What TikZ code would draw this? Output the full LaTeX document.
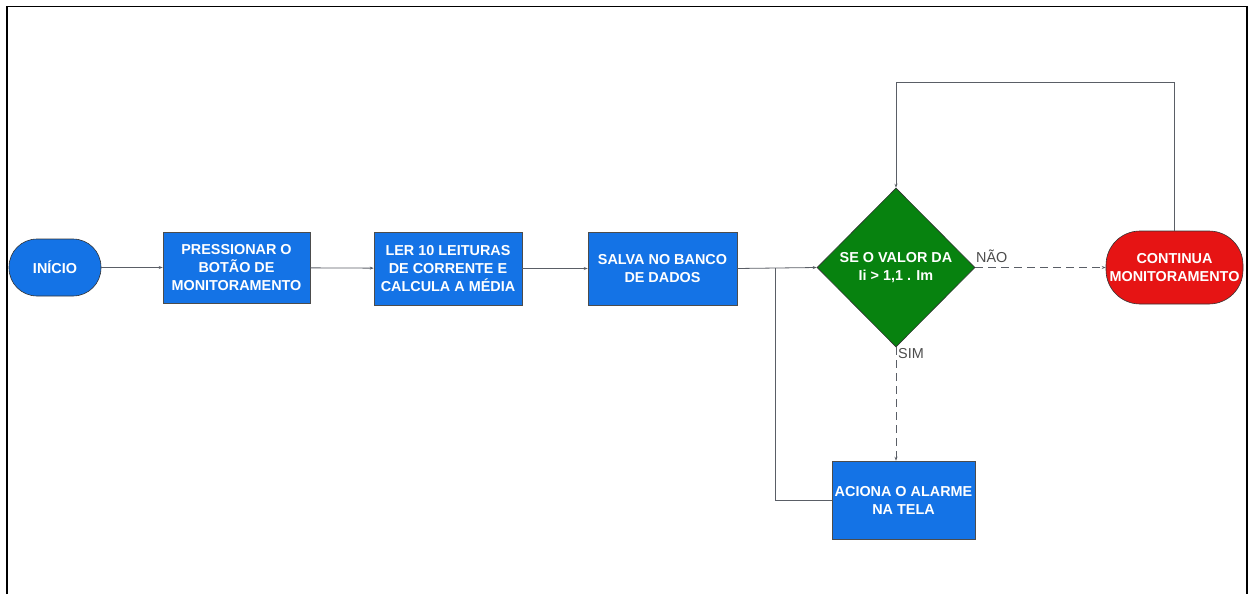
\documentclass[tikz,border=0pt]{standalone}
\usepackage{fontspec}
\setmainfont{Liberation Sans}
\usetikzlibrary{shapes.geometric,arrows.meta}
\definecolor{bluebox}{HTML}{1473E6}
\definecolor{greend}{HTML}{07820F}
\definecolor{redst}{HTML}{E61414}
\definecolor{lin}{HTML}{5A5E66}
\begin{document}
\begin{tikzpicture}[x=1pt,y=-1pt,
  txt/.style={text=white,font=\fontsize{14.4}{18}\selectfont\bfseries,align=center,inner sep=0pt},
  procbox/.style={txt,draw=black!70,line width=0.6pt,fill=bluebox,rectangle,minimum width=#1},
  stad/.style={txt,draw=black!80,line width=0.6pt,rectangle,rounded corners=28pt},
  conn/.style={draw=lin,line width=0.8pt,-{Stealth[length=4pt,width=3pt]}},
  dconn/.style={conn,dash pattern=on 8pt off 5pt},
  lbl/.style={text=black!70,font=\fontsize{14.4}{16}\selectfont,inner sep=0pt}]
\useasboundingbox (0,0) rectangle (1252,594);
\draw[line width=1.4pt] (7,594) -- (7,6.5) -- (1247,6.5) -- (1247,594);
\node[stad,fill=bluebox,minimum width=92pt,minimum height=57pt] (ini) at (55,267.5) {INÍCIO};
\node[procbox=147pt,minimum height=71pt] (press) at (236.5,267.5) {PRESSIONAR O\\BOTÃO DE\\MONITORAMENTO};
\node[procbox=148pt,minimum height=73pt] (ler) at (448,268.5) {LER 10 LEITURAS\\DE CORRENTE E\\CALCULA A MÉDIA};
\node[procbox=149pt,minimum height=73pt] (salva) at (662.5,268.5) {SALVA NO BANCO\\DE DADOS};
\node[txt,diamond,draw=black!80,line width=0.6pt,fill=greend,minimum width=158pt,minimum height=159pt,inner sep=0pt] (dec) at (896,267.5) {SE O VALOR DA\\Ii > 1,1 . Im};
\node[stad,fill=redst,rounded corners=34pt,minimum width=137pt,minimum height=73pt] (cont) at (1174.5,267.5) {CONTINUA\\MONITORAMENTO};
\node[procbox=143pt,minimum height=78pt] (acio) at (903.5,500) {ACIONA O ALARME\\NA TELA};
\coordinate (j) at (775,267.5);
\coordinate (jb) at (775,500);
\coordinate (t1) at (896,82);
\coordinate (t2) at (1174.5,82);
\draw[conn] (ini) -- (press);
\draw[conn] (press) -- (ler);
\draw[conn] (ler.east) -- (salva.west);
\draw[conn] (salva.east) -- (dec.west);
\draw[draw=lin,line width=0.8pt] (acio.west) -- (jb) -- (j);
\draw[conn] (cont.north) -- (t2) -- (t1) -- (dec.north);
\draw[dconn] (dec.east) -- (cont.west);
\draw[dconn] (dec.south) -- (acio.north -| dec.south);
\node[lbl,anchor=south west] (nao) at (976,263) {NÃO};
\node[lbl,anchor=north west] (sim) at (898,348) {SIM};
\end{tikzpicture}
\end{document}
